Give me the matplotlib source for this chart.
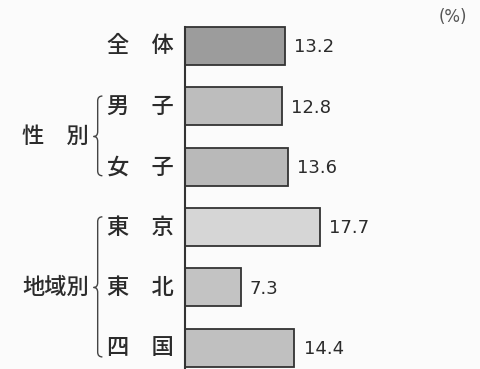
import matplotlib
matplotlib.use("Agg")
import matplotlib.pyplot as plt
from matplotlib.path import Path
from matplotlib.patches import PathPatch

plt.rcParams['font.family'] = ['Noto Sans CJK JP', 'DejaVu Sans']

# data
labels = ["全　体", "男　子", "女　子", "東　京", "東　北", "四　国"]
values = [13.2, 12.8, 13.6, 17.7, 7.3, 14.4]
groups = [("性　別", 1, 2), ("地域別", 3, 5)]

bar_colors = ["#9c9c9c", "#bdbdbd", "#b9b9b9", "#d6d6d6", "#c3c3c3", "#c0c0c0"]
ink = "#2b2b2b"

fig = plt.figure(figsize=(4.8, 3.69), dpi=100, facecolor="#fbfbfb")
ax = fig.add_axes([185 / 480, 0, 295 / 480, 1])
ax.set_facecolor("#fbfbfb")

ypos = list(range(len(values)))
ax.barh(ypos, values, height=0.63, color=bar_colors, edgecolor="#333333", linewidth=1.3, zorder=2)

ax.set_xlim(0, 38.8)
ax.set_ylim(5.35, -0.76)
for s in ["top", "right", "bottom"]:
    ax.spines[s].set_visible(False)
ax.spines["left"].set_bounds(-0.32, 5.35)
ax.spines["left"].set_linewidth(1.5)
ax.spines["left"].set_color("#333333")
ax.set_xticks([])
ax.set_yticks([])

# value labels
for y, v in zip(ypos, values):
    ax.annotate(f"{v}", (v, y), xytext=(6.5, -1), textcoords="offset points",
                va="center", ha="left", fontsize=13, color=ink,
                family=["DejaVu Sans"])

# row labels (x in axes fraction, y in data)
tr = ax.get_yaxis_transform()
for y, lab in zip(ypos, labels):
    ax.text(-0.037, y, lab, transform=tr, ha="right", va="center",
            fontsize=16, fontweight="medium", color=ink, clip_on=False)

# group labels with braces
for name, i0, i1 in groups:
    mid = (i0 + i1) / 2
    ax.text(-0.325, mid, name, transform=tr, ha="right", va="center",
            fontsize=16, fontweight="medium", color=ink, clip_on=False)
    top, bot = i0 - 0.17, i1 + 0.15
    xr, xm, xt = -0.28, -0.296, -0.31
    verts = [(xr, top), (xm, top), (xm, top + 0.08),
             (xm, mid - 0.08), (xm, mid), (xt, mid),
             (xm, mid), (xm, mid + 0.08),
             (xm, bot - 0.08), (xm, bot), (xr, bot)]
    codes = [Path.MOVETO, Path.CURVE3, Path.CURVE3,
             Path.LINETO, Path.CURVE3, Path.CURVE3,
             Path.CURVE3, Path.CURVE3,
             Path.LINETO, Path.CURVE3, Path.CURVE3]
    ax.add_patch(PathPatch(Path(verts, codes), transform=tr, fill=False,
                           edgecolor="#444444", linewidth=1.0, clip_on=False))

fig.text(467 / 480, 1 - 17 / 369, "(%)", ha="right", va="center",
         fontsize=12, color="#555555", family=["DejaVu Sans"])

fig.savefig("out.png", dpi=100, facecolor=fig.get_facecolor())
